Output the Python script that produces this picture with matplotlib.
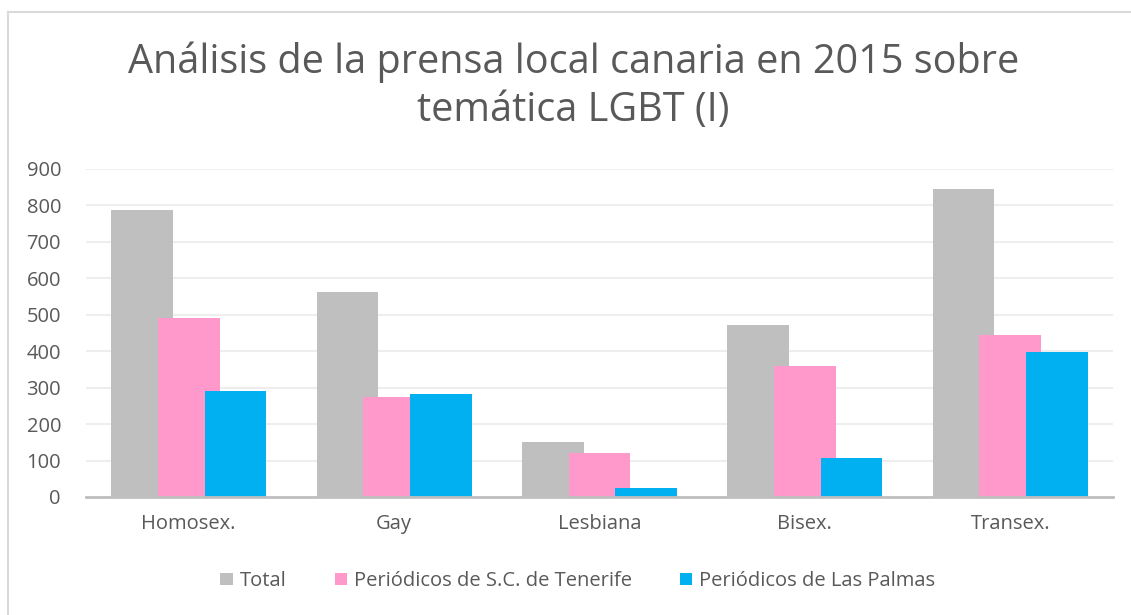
import matplotlib.pyplot as plt
import numpy as np
from matplotlib.lines import Line2D

# data
categorias = ["Homosex.", "Gay", "Lesbiana", "Bisex.", "Transex."]
total = [787, 562, 152, 473, 846]
tenerife = [492, 275, 121, 360, 444]
las_palmas = [292, 283, 25, 107, 399]
series_names = ["Total", "Periódicos de S.C. de Tenerife", "Periódicos de Las Palmas"]
colores = ["#bfbfbf", "#ff99cc", "#00b0f0"]

plt.rcParams['font.family'] = ['Open Sans', 'DejaVu Sans']
txt_col = "#595959"

fig = plt.figure(figsize=(11.31, 6.15), dpi=100)
ax = fig.add_axes([86 / 1131, 1 - 497 / 615, (1113 - 86) / 1131, (497 - 169) / 615])

x = np.arange(len(categorias))
w = 0.30
off = 0.227
for i, (vals, nom) in enumerate(zip([total, tenerife, las_palmas], series_names)):
    ax.bar(x + (i - 1) * off, vals, width=w, color=colores[i], label=nom, zorder=2 + i)

ax.set_xlim(-0.5, len(categorias) - 0.5)
ax.set_ylim(0, 900)
ax.set_yticks(range(0, 901, 100))
ax.set_xticks(x)
ax.set_xticklabels(categorias)
ax.grid(axis='y', color='#eeeeee', linewidth=1.5, zorder=0)
ax.set_axisbelow(True)
for s in ['top', 'right', 'left']:
    ax.spines[s].set_visible(False)
ax.spines['bottom'].set_color('#bfbfbf')
ax.spines['bottom'].set_linewidth(2)
ax.spines['bottom'].set_zorder(10)
ax.tick_params(axis='both', length=0, labelsize=14.5, labelcolor=txt_col)
ax.tick_params(axis='y', pad=18)
ax.tick_params(axis='x', pad=12)

fig.text(0.5068, 1 - 62 / 615, "Análisis de la prensa local canaria en 2015 sobre",
         ha='center', va='center', fontsize=28.5, color=txt_col)
fig.text(0.5068, 1 - 111 / 615, "temática LGBT (I)",
         ha='center', va='center', fontsize=28.5, color=txt_col)

fig.legend(loc='center', bbox_to_anchor=(0.511, 1 - 581 / 615), ncol=3, frameon=False,
           fontsize=14.5, labelcolor=txt_col, handlelength=0.6, handleheight=0.6,
           handletextpad=0.35, columnspacing=2.4)

# outer chart border (left and top only visible)
fig.add_artist(Line2D([7.5 / 1131, 7.5 / 1131], [0, 1 - 11.5 / 615], transform=fig.transFigure,
                      color='#d9d9d9', linewidth=1.5))
fig.add_artist(Line2D([7.5 / 1131, 1], [1 - 11.5 / 615, 1 - 11.5 / 615], transform=fig.transFigure,
                      color='#d9d9d9', linewidth=1.5))

fig.savefig("out.png", dpi=100)
